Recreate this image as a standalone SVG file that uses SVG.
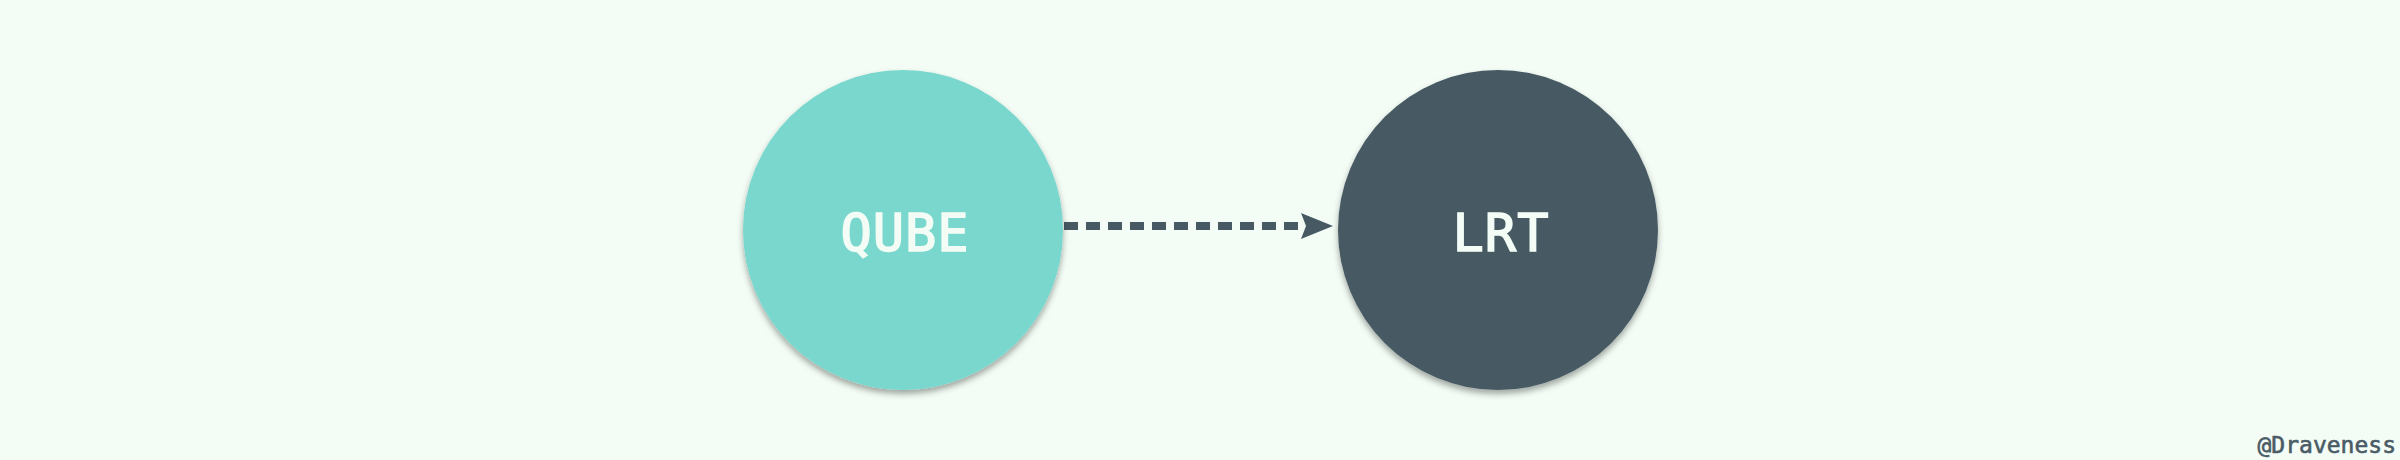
<svg xmlns="http://www.w3.org/2000/svg" width="2400" height="460" viewBox="0 0 2400 460">
<style>
.lbl{font-family:"DejaVu Sans Mono","Liberation Mono",monospace;font-size:52px;fill:#f3fdf6;stroke:#f3fdf6;stroke-width:1.6px;text-anchor:middle;letter-spacing:1px}
.wm{font-family:"DejaVu Sans Mono","Liberation Mono",monospace;font-size:23px;fill:#4a5b66;stroke:#4a5b66;stroke-width:0.6px;text-anchor:end}
.conn{stroke:#475a64;stroke-width:8;stroke-dasharray:14 8;fill:none}
</style>
<defs>
<filter id="sh" x="-20%" y="-20%" width="140%" height="140%">
<feDropShadow dx="0" dy="4" stdDeviation="3" flood-color="#000" flood-opacity="0.35"/>
</filter>
<marker id="ah" markerUnits="userSpaceOnUse" markerWidth="34" markerHeight="28" refX="5" refY="13" orient="auto" overflow="visible">
<path d="M0,0 L32,13 L0,26 L5,13 Z" fill="#475a64"/>
</marker>
</defs>
<rect width="2400" height="460" fill="#f3fdf5"/>
<g id="connectors">
<line class="conn" x1="1064" y1="226" x2="1306" y2="226" marker-end="url(#ah)"/>
</g>
<g id="qube">
<circle cx="903" cy="230" r="160" fill="#79d7ce" filter="url(#sh)"/>
<text class="lbl" x="905" y="251">QUBE</text>
</g>
<g id="lrt">
<circle cx="1498" cy="230" r="160" fill="#475a64" filter="url(#sh)"/>
<text class="lbl" x="1501" y="251">LRT</text>
</g>
<text class="wm" x="2396" y="453">@Draveness</text>
</svg>
